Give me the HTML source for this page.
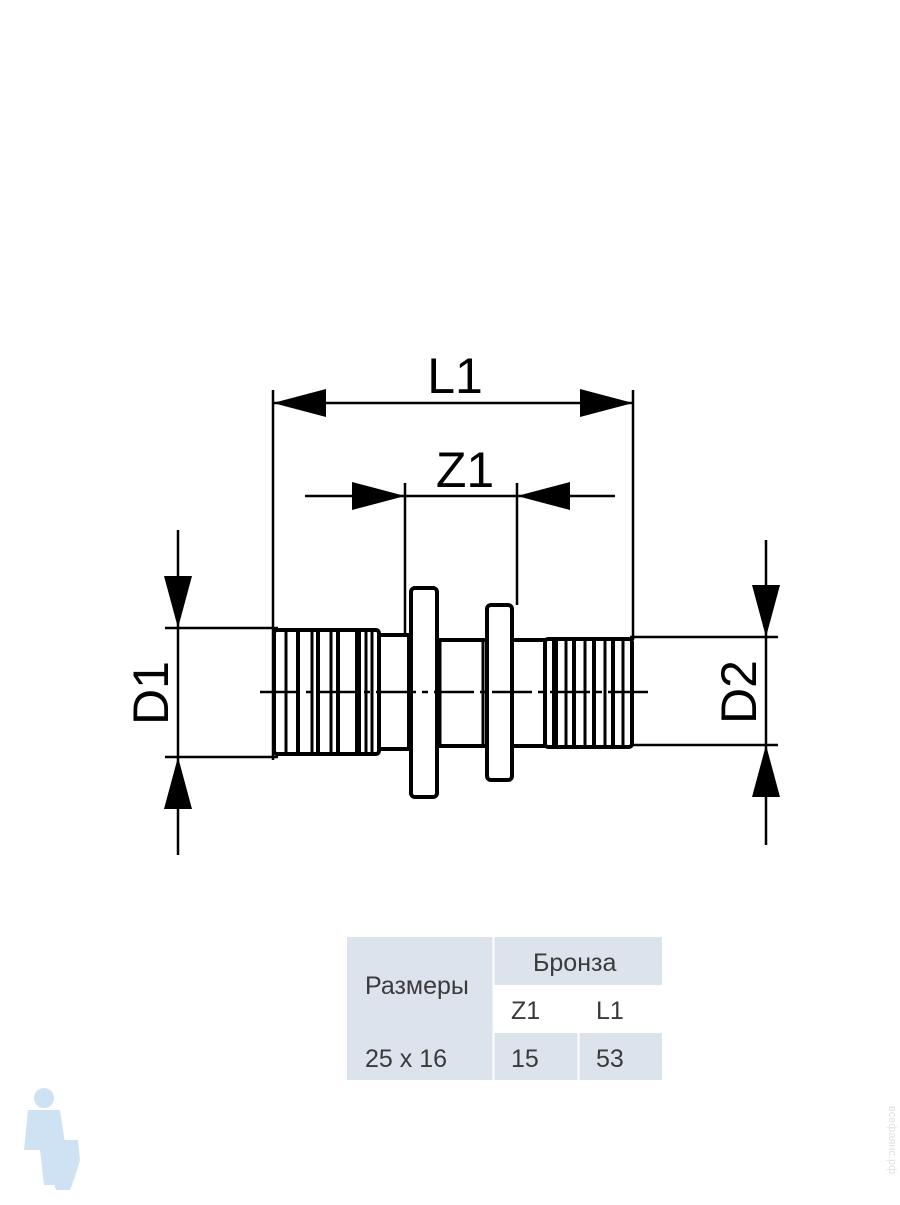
<!DOCTYPE html>
<html><head><meta charset="utf-8"><style>
body{margin:0;background:#fff;width:900px;height:1200px;overflow:hidden;font-family:"Liberation Sans",sans-serif}
</style></head><body>
<svg width="900" height="1200" viewBox="0 0 900 1200" xmlns="http://www.w3.org/2000/svg">
<g stroke="#000" stroke-width="2.5" fill="none">
<line x1="273" y1="390" x2="273" y2="760"/>
<line x1="633" y1="390" x2="633" y2="640"/>
<line x1="405" y1="483" x2="405" y2="640"/>
<line x1="517" y1="483" x2="517" y2="605"/>
<line x1="305" y1="496" x2="615" y2="496"/>
<line x1="273" y1="403" x2="633" y2="403"/>
<line x1="178" y1="530" x2="178" y2="855"/>
<line x1="165" y1="628" x2="278" y2="628"/>
<line x1="165" y1="757" x2="278" y2="757"/>
<line x1="766" y1="540" x2="766" y2="845"/>
<line x1="630" y1="637" x2="778" y2="637"/>
<line x1="630" y1="745" x2="778" y2="745"/>
</g>
<g fill="#000">
<polygon points="273,403 326,389 326,417"/>
<polygon points="633,403 580,389 580,417"/>
<polygon points="405,496 352,482 352,510"/>
<polygon points="517,496 570,482 570,510"/>
<polygon points="178,628 164,576 192,576"/>
<polygon points="178,757 164,809 192,809"/>
<polygon points="766,637 752,585 780,585"/>
<polygon points="766,745 752,797 780,797"/>
</g>
<g stroke="#000" stroke-width="4" fill="#fff" stroke-linejoin="round">
<rect x="274" y="630" width="105" height="124" rx="3"/>
<rect x="379" y="635" width="30" height="114"/>
<rect x="436" y="640" width="52" height="106"/>
<rect x="411" y="588" width="26" height="209" rx="4"/>
<rect x="487" y="605" width="25" height="175" rx="4"/>
<rect x="512" y="640" width="33" height="106"/>
<rect x="545" y="639" width="87" height="108" rx="3"/>
</g>
<g stroke="#000">
<line x1="286" y1="630" x2="286" y2="754" stroke-width="3"/><line x1="298" y1="630" x2="298" y2="754" stroke-width="4"/>
<line x1="312" y1="630" x2="312" y2="754" stroke-width="3"/><line x1="318" y1="630" x2="318" y2="754" stroke-width="4"/>
<line x1="331" y1="630" x2="331" y2="754" stroke-width="3"/><line x1="338" y1="630" x2="338" y2="754" stroke-width="4"/>
<line x1="358" y1="630" x2="358" y2="754" stroke-width="6"/>
<line x1="366" y1="630" x2="366" y2="754" stroke-width="3"/><line x1="372" y1="630" x2="372" y2="754" stroke-width="3"/>
<line x1="440" y1="642" x2="440" y2="744" stroke-width="3"/><line x1="483" y1="642" x2="483" y2="744" stroke-width="3"/>
<line x1="555" y1="639" x2="555" y2="747" stroke-width="6"/>
<line x1="566" y1="639" x2="566" y2="747" stroke-width="3"/><line x1="574" y1="639" x2="574" y2="747" stroke-width="4"/>
<line x1="585" y1="639" x2="585" y2="747" stroke-width="3"/><line x1="594" y1="639" x2="594" y2="747" stroke-width="4"/>
<line x1="605" y1="639" x2="605" y2="747" stroke-width="3"/><line x1="613" y1="639" x2="613" y2="747" stroke-width="4"/>
<line x1="623" y1="639" x2="623" y2="747" stroke-width="3"/>
</g>
<g stroke="#000" stroke-width="2.5"><line x1="260" y1="692" x2="652" y2="692" stroke-dasharray="40,6,6,6"/></g>
<g font-family="Liberation Sans, sans-serif" font-size="50" fill="#000" text-anchor="middle">
<text x="455" y="393">L1</text>
<text x="465" y="487">Z1</text>
<text transform="translate(168,693) rotate(-90)">D1</text>
<text transform="translate(756,692) rotate(-90)">D2</text>
</g>
<g>
<rect x="347" y="937" width="315" height="143" fill="#dde3ec"/>
<rect x="494" y="985" width="168" height="48" fill="#fff"/>
<line x1="493.5" y1="937" x2="493.5" y2="1080" stroke="#fff" stroke-width="2"/>
<line x1="578.5" y1="985" x2="578.5" y2="1080" stroke="#fff" stroke-width="2"/>
</g>
<g font-family="Liberation Sans, sans-serif" font-size="25" fill="#3a3a3a">
<text x="365" y="994">Размеры</text>
<text x="533" y="971">Бронза</text>
<text x="511" y="1019">Z1</text>
<text x="596" y="1019">L1</text>
<text x="365" y="1067">25 x 16</text>
<text x="511" y="1067">15</text>
<text x="596" y="1067">53</text>
</g>
<g fill="#cfe2f3">
<circle cx="44" cy="1098" r="10"/>
<path d="M28 1110 L60 1110 L66 1150 L56 1150 L54 1185 L44 1185 L40 1150 L24 1150 Z"/>
<path d="M52 1140 L78 1140 L80 1160 Q76 1175 70 1190 L56 1190 Q50 1172 50 1160 Z"/>
</g>
<text transform="translate(889,1140) rotate(90)" font-family="Liberation Sans, sans-serif" font-size="11" fill="#e2e2e2" text-anchor="middle">всефаянс.рф</text>
</svg>
</body></html>
